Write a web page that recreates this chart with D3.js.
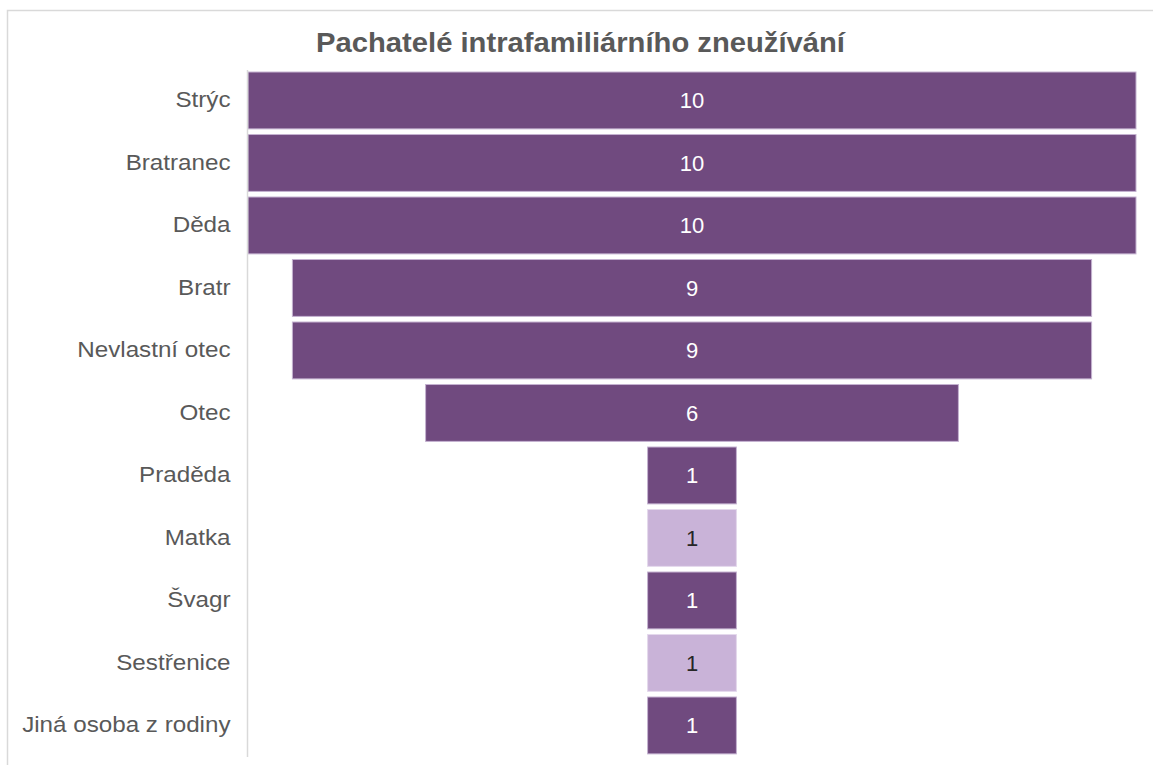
<!DOCTYPE html>
<html><head><meta charset="utf-8">
<script src="https://cdn.jsdelivr.net/npm/d3@7"></script>
<style>body{margin:0;background:#fff}svg{display:block}</style>
</head><body>
<svg id="c" width="1153" height="765"></svg>
<script>
const title = "Pachatelé intrafamiliárního zneužívání";
const categories = ["Strýc","Bratranec","Děda","Bratr","Nevlastní otec","Otec","Praděda","Matka","Švagr","Sestřenice","Jiná osoba z rodiny"];
const values = [10,10,10,9,9,6,1,1,1,1,1];
const highlight = [false,false,false,false,false,false,false,true,false,true,false];

const svg = d3.select("#c");
const font = "'Liberation Sans', Arial, sans-serif";
// frame
svg.append("rect").attr("x",7.5).attr("y",10.5).attr("width",1160).attr("height",770)
  .attr("fill","none").attr("stroke","#d9d9d9").attr("stroke-width",1.5);

const x = d3.scaleLinear().domain([-5,5]).range([248,1136]);
const y = d3.scaleBand().domain(categories).range([69.2,756.7]).paddingInner(0.09).paddingOuter(0.045);

svg.append("text").attr("transform","translate(580.5,51.5) scale(1.025,1)").attr("text-anchor","middle")
  .attr("font-family",font).attr("font-size",28.5).attr("font-weight","bold").attr("fill","#595959").text(title);

const data = categories.map((c,i)=>({c, v:values[i], h:highlight[i]}));

svg.append("g").selectAll("rect").data(data).join("rect")
  .attr("x",d=>x(-d.v/2)).attr("width",d=>x(d.v/2)-x(-d.v/2))
  .attr("y",d=>y(d.c)).attr("height",y.bandwidth())
  .attr("fill",d=>d.h?"#c9b3d8":"#704a7f")
  .attr("stroke",d=>d.h?"#e4d9ec":"#c4b2d0").attr("stroke-width",1);

svg.append("g").selectAll("text").data(data).join("text")
  .attr("x",x(0)).attr("y",d=>y(d.c)+y.bandwidth()/2+8)
  .attr("text-anchor","middle").attr("font-family",font).attr("font-size",22)
  .attr("fill",d=>d.h?"#262626":"#ffffff").text(d=>d.v);

// y axis
const ax = svg.append("g").attr("transform","translate(247.5,0)")
  .call(d3.axisLeft(y).tickSize(0).tickPadding(17));
ax.select(".domain").attr("stroke","#d9d9d9").attr("stroke-width",1.5).attr("d","M0,70V757");
ax.selectAll(".tick text")
  .attr("x",null).attr("dy",null).attr("y",7)
  .attr("transform","translate(-17,0) scale(1.1,1)")
  .attr("font-family",font).attr("font-size",22).attr("fill","#595959");
</script>
</body></html>
